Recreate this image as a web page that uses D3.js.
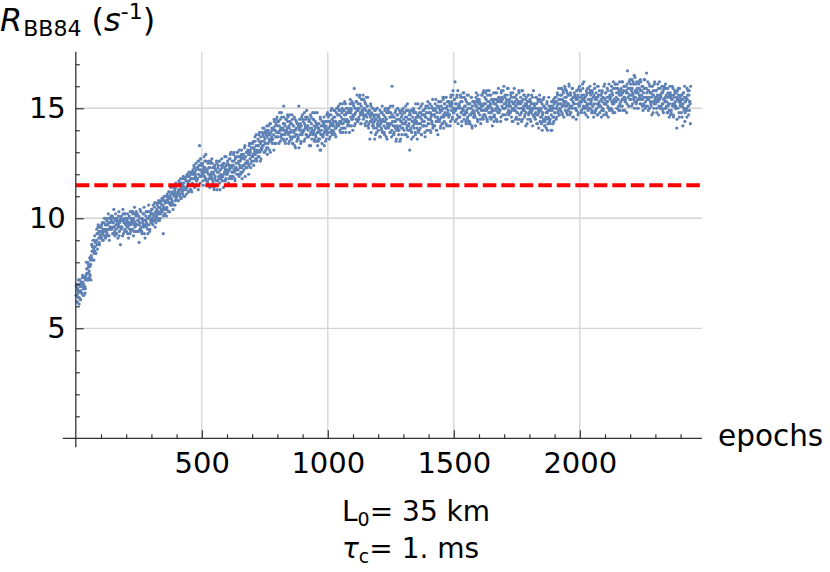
<!DOCTYPE html>
<html>
<head>
<meta charset="utf-8">
<script src="https://cdn.jsdelivr.net/npm/d3@7"></script>
<style>
  html, body { margin: 0; padding: 0; background: #fff; }
  svg { display: block; }
  text { font-family: "DejaVu Sans", sans-serif; fill: #000; }
</style>
</head>
<body>
<svg id="chart" width="830" height="572"></svg>
<script>
// ---- data: R_BB84 per epoch ----
// odd epochs (1, 3, 5, ...)
const rateOddA = [
6.5,7.0,6.2,6.8,6.4,7.2,6.1,6.7,6.9,6.3, 7.1,6.6,6.9,7.4,6.5,7.0,6.8,7.3,6.6,7.2,
7.3,7.7,7.5,8.0,7.2,7.8,7.6,8.2,7.4,7.9, 8.3,8.8,8.5,8.1,9.0,8.6,8.4,9.2,8.7,8.9,
9.0,9.5,8.8,9.3,9.7,9.1,8.9,9.6,9.2,9.4, 9.6,9.1,9.8,9.3,9.0,9.5,10.0,9.2,9.7,9.4,
9.4,9.9,9.2,9.7,10.2,9.5,9.0,9.8,9.6,10.0, 9.9,9.5,10.1,9.3,9.8,10.4,9.6,9.2,10.0,9.7,
9.5,10.0,9.8,9.1,9.7,10.3,9.4,9.9,8.8,9.6, 10.1,9.6,9.9,10.4,9.3,9.8,10.2,9.5,10.0,9.7,
9.4,9.9,10.2,9.6,9.1,9.8,10.0,9.3,9.7,10.3, 10.0,9.5,9.8,10.3,9.2,9.9,10.5,9.6,9.4,10.1,
9.7,10.2,9.4,9.9,10.1,8.9,9.8,10.4,9.5,9.6, 10.0,9.3,9.8,10.2,9.6,10.5,9.7,9.1,9.9,10.3,
9.8,10.3,9.5,10.0,10.6,9.7,9.4,10.1,9.9,10.2, 10.4,9.8,10.2,10.6,9.9,10.1,10.7,9.6,10.3,10.0,
10.1,10.6,10.3,9.9,10.8,10.2,10.5,10.0,10.7,10.4, 10.6,10.3,10.9,9.3,10.5,11.0,10.2,10.7,10.4,10.8,
10.5,11.1,10.8,10.3,11.2,10.7,11.0,10.6,11.4,10.9, 11.2,10.7,11.1,11.5,10.6,11.0,11.3,10.8,11.6,11.1,
11.0,11.5,11.2,10.8,11.7,11.3,11.1,11.6,10.9,11.4, 11.6,11.2,11.5,11.9,11.0,11.4,11.8,11.3,11.7,11.1,
11.4,11.9,11.6,11.2,12.1,11.7,11.5,12.0,11.3,11.8, 12.0,11.6,12.2,11.8,12.4,11.5,12.1,11.9,12.5,11.7,
12.3,11.8,12.6,12.0,12.4,13.3,11.9,12.7,12.2,12.5, 12.0,12.4,11.7,12.2,12.8,11.9,12.3,12.6,11.8,12.1,
12.2,11.7,12.5,12.0,11.5,12.3,11.9,12.6,11.8,12.1, 11.8,12.3,11.6,12.0,11.3,12.4,11.9,12.2,11.7,12.5,
12.1,11.7,12.4,11.9,12.6,11.6,12.2,12.0,11.8,12.7, 12.3,11.9,12.5,12.0,11.7,12.8,12.2,11.8,12.4,12.1
];
const rateOddB = [
12.0,12.5,12.2,11.8,12.7,12.3,12.9,11.9,12.4,12.1, 12.6,12.1,12.4,13.0,12.2,11.8,12.7,12.3,12.5,12.0,
12.2,12.8,12.5,12.0,13.1,12.4,12.6,12.1,12.9,12.3, 12.8,12.4,12.9,12.2,12.7,13.3,12.5,12.3,13.0,12.6,
12.6,13.1,12.9,12.4,13.4,12.7,13.0,12.5,13.2,12.8, 13.2,12.8,13.5,12.6,13.1,13.7,12.9,13.3,12.7,13.0,
13.0,13.6,13.3,12.8,13.9,13.1,13.4,12.7,13.5,13.2, 13.3,13.8,13.5,14.1,13.0,13.6,13.4,14.0,13.2,13.7,
13.9,13.4,14.2,13.6,13.1,13.8,14.3,13.5,13.7,14.0, 13.6,14.1,13.8,14.5,13.4,14.0,13.7,14.3,13.9,14.6,
14.2,13.7,14.4,13.9,14.8,13.5,14.1,13.8,14.6,14.0, 13.8,14.3,15.1,14.0,13.5,14.2,13.9,14.5,13.6,14.1,
14.4,13.9,13.4,14.1,14.7,13.7,14.3,14.0,13.6,14.5, 13.7,14.2,13.9,14.6,13.3,14.0,13.8,14.4,13.5,14.1,
14.3,13.6,15.1,14.0,13.8,14.5,13.4,14.2,13.9,14.7, 13.9,14.4,14.0,14.8,13.6,14.2,14.5,13.8,14.1,14.6,
14.2,13.7,14.4,13.3,14.1,14.7,13.9,14.3,13.6,14.0, 13.8,14.5,14.0,13.5,14.8,14.1,13.7,14.3,14.2,13.9,
14.1,13.6,14.3,13.9,13.1,14.5,13.8,14.0,13.4,14.2, 13.7,14.2,14.6,13.9,14.1,13.5,14.4,14.0,13.8,14.8,
14.4,13.9,14.1,14.7,13.7,14.3,14.9,14.0,14.5,14.2, 14.0,14.6,14.2,14.9,13.8,14.4,14.1,15.0,14.3,14.7,
14.7,14.2,14.9,14.4,15.2,13.9,14.6,14.3,15.0,14.5, 14.3,14.9,14.5,15.3,14.1,14.7,15.0,14.4,14.8,14.2,
15.0,14.4,14.8,14.2,15.4,14.6,14.9,14.5,15.2,14.0, 14.6,15.1,15.9,14.7,14.3,15.0,14.5,15.3,14.9,14.4,
15.2,14.6,15.0,15.6,14.8,14.3,15.1,14.7,15.4,14.9, 14.5,15.0,14.7,15.3,14.2,14.9,15.5,14.6,15.1,14.8,
14.8,14.3,14.9,13.6,14.6,15.1,14.4,14.7,14.2,15.0, 14.2,14.7,14.4,14.9,13.8,14.5,14.1,15.0,14.3,14.6
];
const rateOddC = [
14.0,14.6,14.2,14.9,13.7,14.4,14.1,14.8,13.9,14.5, 14.7,14.2,13.8,14.4,15.0,14.1,14.5,13.6,14.3,14.9,
14.1,14.8,14.3,13.9,15.1,14.6,13.7,16.0,14.4,14.2, 14.6,13.9,14.2,14.8,14.4,13.5,14.0,14.7,15.0,14.1,
13.8,14.5,14.9,14.2,13.6,14.4,14.1,14.7,14.3,15.0, 14.5,14.0,14.8,14.3,15.1,13.8,14.6,14.2,13.7,14.9,
14.2,14.7,13.1,14.5,14.0,14.9,13.9,14.4,14.6,13.7, 14.8,14.1,14.4,13.9,15.2,14.6,14.3,13.6,14.7,14.0,
14.3,15.0,14.6,14.1,14.8,13.8,14.5,15.2,14.2,14.7, 14.9,14.4,13.9,14.6,15.1,14.2,14.8,14.0,15.3,14.5,
14.3,14.8,15.2,14.5,13.9,14.7,14.4,15.0,14.1,14.9, 14.7,14.2,15.0,14.6,15.4,14.0,14.8,14.4,13.8,15.1,
15.0,14.4,14.8,14.1,15.3,14.6,14.9,14.3,15.5,14.7, 14.6,15.2,14.8,15.5,14.3,15.0,14.7,15.3,14.9,14.2,
15.3,14.7,15.1,14.4,15.6,14.9,15.2,14.6,15.8,15.0, 14.8,15.4,16.2,14.9,15.2,14.5,15.6,15.0,14.3,15.1,
15.2,14.6,15.0,15.5,14.8,14.2,15.3,14.9,15.7,14.7, 14.5,15.1,14.8,15.4,14.3,14.9,15.6,14.6,15.0,14.4,
15.2,14.7,14.3,15.0,15.5,14.8,14.1,15.3,14.9,14.6, 14.8,15.3,14.6,15.1,15.7,14.9,15.4,14.4,15.0,15.2,
15.4,14.7,15.0,14.3,15.2,15.6,14.9,15.1,14.5,15.8, 14.9,15.5,15.2,14.6,15.0,15.8,14.4,15.3,15.1,14.8,
15.3,14.6,15.1,15.6,14.8,15.0,14.2,15.4,14.9,15.2, 14.7,15.2,15.7,15.0,14.5,15.4,15.1,14.8,15.9,15.3,
15.5,14.9,15.3,14.6,15.8,15.1,15.4,15.0,14.7,16.0, 15.0,15.6,14.7,15.2,15.4,14.5,15.9,15.1,14.9,15.3,
15.4,14.8,15.1,15.7,14.6,15.3,15.0,14.4,15.5,15.2, 14.9,15.3,14.5,15.1,15.6,14.8,15.2,14.3,15.0,15.7,
15.2,14.7,15.5,15.0,14.4,15.3,15.8,14.9,15.1,15.6, 14.6,15.1,15.4,14.8,15.2,14.3,15.0,15.6,14.7,15.3
];
const rateOddD = [
15.1,14.5,15.3,14.8,15.6,14.9,14.2,15.2,15.0,14.7, 14.6,15.2,14.8,15.5,14.3,15.0,14.7,15.3,14.1,14.9,
15.0,14.4,14.9,15.3,14.6,14.0,14.8,15.4,14.5,15.1, 14.4,15.0,14.6,14.1,15.2,14.8,14.3,14.9,15.5,14.5,
14.9,14.3,15.1,14.7,14.0,15.3,14.6,15.0,14.4,15.2, 15.3,14.8,15.5,15.0,14.6,15.7,15.2,14.9,15.4,14.7,
15.0,15.6,15.2,15.9,14.8,15.4,15.1,15.7,14.6,15.3, 15.5,14.9,15.3,15.8,15.1,14.7,15.6,15.2,16.1,15.0,
15.1,15.7,14.8,15.4,15.0,15.9,15.3,14.6,15.5,15.2, 15.6,15.0,15.4,14.9,15.8,15.2,14.7,15.5,15.1,16.0,
15.2,15.8,15.5,14.9,15.3,16.1,15.0,15.6,15.4,14.8, 15.5,15.1,14.7,15.6,15.2,15.9,14.9,15.4,15.0,15.7,
15.0,15.6,15.3,14.8,15.8,15.1,15.5,14.6,15.2,15.9, 15.4,14.9,15.7,15.2,14.7,15.5,16.0,15.1,15.3,14.8,
15.6,15.1,15.4,14.9,15.8,15.0,15.5,14.7,15.2,16.1, 15.2,15.7,14.8,15.3,15.9,15.1,14.6,15.5,15.0,15.6,
15.5,15.0,15.8,15.3,14.9,15.6,16.2,15.2,15.4,14.8, 15.3,15.9,15.5,15.0,16.1,15.4,15.7,14.9,15.6,15.2,
15.8,15.3,15.6,16.2,15.1,15.7,15.4,16.0,15.5,14.9, 15.4,16.0,15.7,15.2,16.7,15.5,15.9,15.1,15.6,16.3,
15.9,15.4,15.8,16.3,15.2,15.6,16.1,15.5,15.0,16.4, 15.5,16.1,15.3,15.8,15.0,15.7,16.2,15.4,15.9,15.2,
15.8,15.2,15.6,16.0,15.4,14.9,15.7,16.3,15.1,15.5, 15.3,15.9,16.6,15.5,15.1,15.8,15.4,16.1,15.0,15.7,
15.7,15.1,15.5,16.0,15.3,14.8,15.6,15.2,16.2,15.4, 15.2,15.8,15.0,15.5,16.1,15.3,14.7,15.6,15.4,15.9,
15.6,15.1,15.7,15.2,14.9,15.8,15.4,16.0,15.0,15.5, 15.0,15.6,15.3,14.8,15.9,15.1,15.5,14.6,15.2,15.7,
15.5,14.9,15.4,16.0,15.2,14.7,15.6,15.1,15.8,15.3, 15.1,15.7,14.1,15.4,15.0,15.9,15.3,14.6,15.5,15.2,
15.4,14.8,15.6,15.1,14.2,15.7,15.0,15.5,14.4,15.3, 15.5,15.0,14.6,15.4,15.8,15.1,15.6,14.9,15.3,14.3
];
// even epochs (2, 4, 6, ...)
const rateEvenA = [
6.9,6.5,6.2,6.7,6.6,7.0,6.4,7.2,6.3,6.7, 7.0,6.6,7.3,7.1,6.8,6.5,7.3,6.9,6.8,7.4,
8.0,7.5,7.7,7.2,7.9,7.5,7.3,7.8,8.1,7.2, 8.2,8.8,8.7,8.5,9.0,8.1,8.7,8.5,8.9,8.4,
9.0,9.3,8.6,9.6,9.3,9.4,8.8,9.6,9.1,9.2, 9.7,9.3,9.0,9.5,9.4,9.8,9.2,10.0,9.1,9.5,
9.7,9.3,10.0,9.8,9.5,9.2,10.0,9.6,9.5,10.1, 10.1,9.6,9.8,9.3,10.0,9.6,9.4,9.9,10.2,9.3,
9.3,9.9,9.8,9.6,10.1,9.2,9.8,9.6,10.0,9.5, 9.6,9.9,9.2,10.2,9.9,10.0,9.4,10.2,9.7,9.8,
10.0,9.6,9.3,9.8,9.7,10.1,9.5,10.3,9.4,9.8, 9.9,9.5,10.2,10.0,9.7,9.4,10.2,9.8,9.7,10.3,
10.2,9.7,9.9,9.4,10.1,9.7,9.5,10.0,10.3,9.4, 9.4,10.0,9.9,9.7,10.2,9.3,9.9,9.7,10.1,9.6,
9.7,10.0,9.3,10.3,10.0,10.1,9.5,10.3,9.8,9.9, 10.4,10.0,9.7,10.2,10.1,10.5,9.9,10.7,9.8,10.2,
10.4,10.0,10.7,10.5,10.2,9.9,10.7,10.3,10.2,10.8, 10.9,10.4,10.6,10.1,10.8,10.4,10.2,10.7,11.0,10.1,
10.4,11.0,10.9,10.7,11.2,10.3,10.9,10.7,11.1,10.6, 10.8,11.1,10.4,11.4,11.1,11.2,10.6,11.4,10.9,11.0,
11.5,11.1,10.8,11.3,11.2,11.6,11.0,11.8,10.9,11.3, 11.5,11.1,11.8,11.6,11.3,11.0,11.8,11.4,11.3,11.9,
12.0,11.5,11.7,11.2,11.9,11.5,11.3,11.8,12.1,11.2, 11.5,12.1,12.0,11.8,12.3,11.4,12.0,11.8,12.2,11.7,
11.8,12.3,11.3,12.6,12.2,12.4,11.6,12.7,11.9,12.1, 12.5,12.0,11.5,12.3,12.1,12.6,11.8,12.9,11.7,12.2,
12.1,11.6,12.6,12.3,11.8,11.4,12.5,12.0,11.9,12.7, 12.5,11.7,12.1,11.4,12.3,11.8,11.5,12.2,12.6,11.3,
11.5,12.3,12.1,11.8,12.6,11.3,12.2,11.9,12.4,11.7, 11.9,12.4,11.4,12.5,12.1,12.3,11.7,12.8,12.0,12.2
];
const rateEvenB = [
12.6,12.1,11.6,12.4,12.2,12.7,11.9,13.0,11.8,12.3, 12.4,11.9,12.9,12.6,12.1,11.7,12.8,12.3,12.2,13.0,
13.0,12.2,12.6,11.9,12.8,12.3,12.0,12.7,13.1,11.8, 12.1,12.9,12.7,12.4,13.2,11.9,12.8,12.5,13.0,12.3,
12.5,13.0,12.0,13.3,12.9,13.1,12.3,13.4,12.6,12.8, 13.4,12.9,12.4,13.2,13.0,13.5,12.7,13.8,12.6,13.1,
13.3,12.8,13.8,13.5,13.0,12.6,13.7,13.2,13.1,13.9, 14.1,13.3,13.7,13.0,13.9,13.4,13.1,13.8,14.2,12.9,
13.2,14.0,13.8,13.5,14.3,13.0,13.9,13.6,14.1,13.4, 13.6,14.1,13.1,14.4,14.0,14.2,13.4,14.5,13.7,13.9,
14.4,13.9,13.4,14.2,14.0,14.5,13.7,14.8,13.6,14.1, 14.1,13.6,14.6,14.3,13.8,13.4,14.5,14.0,13.9,14.7,
14.6,13.8,14.2,13.5,14.4,13.9,13.6,14.3,14.7,13.4, 13.4,14.2,14.0,13.7,14.5,13.2,14.1,13.8,14.3,13.6,
13.7,14.2,13.2,14.5,14.1,14.3,13.5,14.6,13.8,14.0, 14.5,14.0,13.5,14.3,14.1,14.6,13.8,14.9,13.7,14.2,
14.0,13.7,14.5,14.4,13.8,13.3,14.6,14.1,13.9,14.8, 14.5,13.9,14.2,13.6,14.4,13.8,13.5,14.3,14.8,13.3,
13.5,14.1,14.0,13.6,14.6,13.1,14.2,13.8,14.4,13.7, 13.8,14.3,13.3,14.4,14.0,14.2,13.6,14.7,13.9,14.1,
14.6,14.1,13.6,14.4,14.2,14.7,13.9,15.0,13.8,14.3, 14.4,13.9,14.9,14.6,14.1,13.7,14.8,14.3,14.2,15.0,
15.1,14.3,14.7,14.0,14.9,14.4,14.1,14.8,15.2,13.9, 14.1,14.9,14.7,14.4,15.2,13.9,14.8,14.5,15.0,14.3,
14.4,14.9,13.9,15.2,14.8,15.0,14.2,15.3,14.5,14.7, 15.2,14.7,14.2,15.0,14.8,15.3,14.5,15.6,14.4,14.9,
15.0,14.5,15.5,15.2,14.7,14.3,15.4,14.9,14.8,15.6, 15.4,14.6,15.0,14.3,15.2,14.7,14.4,15.1,15.5,14.2,
14.1,14.9,14.7,14.4,15.2,13.9,14.8,14.5,15.0,14.3, 14.1,14.6,13.6,14.9,14.5,14.7,13.9,15.0,14.2,14.4
];
const rateEvenC = [
14.7,14.2,13.7,14.5,14.3,14.8,14.0,15.1,13.9,14.4, 14.4,13.9,14.9,14.6,14.1,13.7,14.8,14.3,14.2,15.0,
15.0,14.2,14.6,13.9,14.8,14.3,14.0,14.7,15.1,13.8, 13.8,14.6,14.4,14.1,14.9,13.6,14.5,14.2,14.7,14.0,
14.0,14.5,13.5,14.8,14.4,14.6,13.8,14.9,14.1,14.3, 14.8,14.3,13.8,14.6,14.4,14.9,14.1,15.2,14.0,14.5,
14.3,14.0,14.8,14.7,14.1,13.6,14.9,14.4,14.2,15.0, 14.9,14.3,14.5,13.8,14.8,14.4,14.1,14.6,15.2,13.9,
14.0,14.8,14.6,14.3,15.1,13.8,14.7,14.4,14.9,14.2, 14.2,14.7,13.7,15.0,14.6,14.8,14.0,15.1,14.3,14.5,
15.0,14.5,14.0,14.8,14.6,15.1,14.3,15.4,14.2,14.7, 14.7,14.2,15.2,14.9,14.4,14.0,15.1,14.6,14.5,15.3,
15.3,14.5,14.9,14.2,15.1,14.6,14.3,15.0,15.4,14.1, 14.4,15.2,15.0,14.7,15.5,14.2,15.1,14.8,15.3,14.6,
14.7,15.2,14.2,15.5,15.1,15.3,14.5,15.6,14.8,15.0, 15.4,14.9,14.4,15.2,15.0,15.5,14.7,15.8,14.6,15.1,
15.1,14.6,15.6,15.3,14.8,14.4,15.5,15.0,14.9,15.7, 15.5,14.7,15.1,14.4,15.3,14.8,14.5,15.2,15.6,14.3,
14.4,15.2,15.0,14.7,15.5,14.2,15.1,14.8,15.3,14.6, 14.7,15.2,14.2,15.5,15.1,15.3,14.5,15.6,14.8,15.0,
15.3,15.0,14.5,15.1,14.9,15.6,14.6,15.7,14.7,15.2, 15.2,14.7,15.7,15.4,14.9,14.5,15.6,15.1,15.0,15.8,
15.6,14.8,15.2,14.5,15.4,14.9,14.6,15.3,15.7,14.4, 14.6,15.4,15.2,14.9,15.7,14.4,15.3,15.0,15.5,14.8,
14.9,15.4,14.4,15.7,15.3,15.5,14.7,15.8,15.0,15.2, 15.5,15.0,14.5,15.3,15.1,15.6,14.8,15.9,14.7,15.2,
15.1,14.8,15.6,15.5,14.9,14.4,15.7,15.2,15.0,15.9, 15.5,14.9,15.1,14.6,15.4,14.8,14.5,15.3,15.8,14.5,
14.7,15.3,15.2,14.8,15.8,14.5,15.4,15.0,15.6,14.9, 14.7,15.2,14.2,15.5,15.1,15.3,14.5,15.6,14.8,15.0
];
const rateEvenD = [
15.4,14.9,14.4,15.2,15.0,15.5,14.7,15.8,14.6,15.1, 15.0,14.5,15.5,15.2,14.7,14.3,15.4,14.9,14.8,15.6,
15.4,14.6,15.0,14.3,15.2,14.7,14.4,15.1,15.5,14.2, 14.2,15.0,14.8,14.5,15.3,14.0,14.9,14.6,15.1,14.4,
14.5,15.0,14.0,15.3,14.9,15.1,14.3,15.4,14.6,14.8, 15.5,15.0,14.5,15.3,15.1,15.6,14.8,15.9,14.7,15.2,
15.4,14.9,15.9,15.6,15.1,14.7,15.8,15.3,15.2,16.0, 15.9,15.1,15.5,14.8,15.7,15.2,14.9,15.6,16.0,14.7,
14.8,15.6,15.4,15.1,15.9,14.6,15.5,15.2,15.7,15.0, 15.0,15.5,14.5,15.8,15.4,15.6,14.8,15.9,15.1,15.3,
15.8,15.3,14.8,15.6,15.4,15.9,15.1,16.2,15.0,15.5, 15.3,15.0,15.8,15.7,15.1,14.6,15.9,15.4,15.2,16.0,
15.8,15.2,15.4,14.9,15.7,15.1,14.8,15.6,16.1,14.8, 14.9,15.5,15.4,15.0,16.0,14.7,15.6,15.2,15.8,15.1,
15.1,15.6,14.6,15.7,15.3,15.5,14.9,16.0,15.2,15.4, 15.7,15.2,14.7,15.5,15.3,15.8,15.0,16.1,14.9,15.4,
15.5,15.0,16.0,15.7,15.2,14.8,15.9,15.4,15.3,16.1, 16.1,15.3,15.7,15.0,15.9,15.4,15.1,15.8,16.2,14.9,
15.1,15.9,15.7,15.4,16.2,14.9,15.8,15.5,16.0,15.3, 15.3,15.8,14.8,16.1,15.7,15.9,15.1,16.2,15.4,15.6,
16.1,15.6,15.1,15.9,15.7,16.2,15.4,16.5,15.3,15.8, 15.7,15.2,16.2,15.9,15.4,15.0,16.1,15.6,15.5,16.3,
16.2,15.4,15.8,15.1,16.0,15.5,15.2,15.9,16.3,15.0, 15.1,15.9,15.7,15.4,16.2,14.9,15.8,15.5,16.0,15.3,
15.2,15.7,14.7,16.0,15.6,15.8,15.0,16.1,15.3,15.5, 15.8,15.3,14.8,15.6,15.4,15.9,15.1,16.2,15.0,15.5,
15.5,15.0,16.0,15.7,15.2,14.8,15.9,15.4,15.3,16.1, 15.9,15.1,15.5,14.8,15.7,15.2,14.9,15.6,16.0,14.7,
14.8,15.6,15.4,15.1,15.9,14.6,15.5,15.2,15.7,15.0, 15.0,15.5,14.5,15.8,15.4,15.6,14.8,15.9,15.1,15.3,
15.6,15.1,14.6,15.4,15.2,15.7,14.9,16.0,14.8,15.3, 15.4,14.9,15.9,15.6,15.1,14.7,15.8,15.3,15.2,16.0
];
const thresholdRate = 11.5;
const xMajorTicks = [500, 1000, 1500, 2000];
const xMinorTicks = [100,200,300,400,600,700,800,900,1100,1200,1300,1400,1600,1700,1800,1900,2100,2200,2300,2400];
const yMajorTicks = [5, 10, 15];
const yMinorTicks = [1,2,3,4,6,7,8,9,11,12,13,14,16,17];
const xDomain = [0, 2485];
const yDomain = [0, 17.57];

// ---- build points ----
const oddRates = [].concat(rateOddA, rateOddB, rateOddC, rateOddD);
const evenRates = [].concat(rateEvenA, rateEvenB, rateEvenC, rateEvenD);
const points = [];
oddRates.forEach((v, i) => points.push({ epoch: 1 + 2 * i, rate: v }));
evenRates.forEach((v, i) => points.push({ epoch: 2 + 2 * i, rate: v }));
points.sort((a, b) => a.epoch - b.epoch);

const svg = d3.select("#chart");
const x = d3.scaleLinear().domain(xDomain).range([75.8, 702]);
const y = d3.scaleLinear().domain(yDomain).range([438.3, 51.7]);
const axisColor = "#333";
const gridColor = "#d4d4d4";

// gridlines
const grid = svg.append("g");
grid.selectAll("line.gx").data(xMajorTicks).join("line")
  .attr("x1", d => x(d)).attr("x2", d => x(d))
  .attr("y1", y(yDomain[0])).attr("y2", y(yDomain[1]))
  .attr("stroke", gridColor).attr("stroke-width", 1.3);
grid.selectAll("line.gy").data(yMajorTicks).join("line")
  .attr("x1", x(xDomain[0])).attr("x2", x(xDomain[1]))
  .attr("y1", d => y(d)).attr("y2", d => y(d))
  .attr("stroke", gridColor).attr("stroke-width", 1.3);

// points
svg.append("g").selectAll("circle").data(points).join("circle")
  .attr("cx", d => x(d.epoch)).attr("cy", d => y(d.rate))
  .attr("r", 1.6).attr("fill", "#5e81b5");

// threshold line
svg.append("line")
  .attr("x1", x(xDomain[0])).attr("x2", x(xDomain[1]))
  .attr("y1", y(thresholdRate)).attr("y2", y(thresholdRate))
  .attr("stroke", "#ff0000").attr("stroke-width", 4)
  .attr("stroke-dasharray", "13.5,5");

// axes
const fontSize = 29;
const xAxisG = svg.append("g").attr("transform", `translate(0,${y(0)})`);
xAxisG.call(d3.axisBottom(x).tickValues(xMajorTicks).tickSize(-8).tickPadding(14).tickFormat(d3.format("d")));
const xMinorG = svg.append("g").attr("transform", `translate(0,${y(0)})`);
xMinorG.call(d3.axisBottom(x).tickValues(xMinorTicks).tickSize(-4).tickFormat(""));
const yAxisG = svg.append("g").attr("transform", `translate(${x(0)},0)`);
yAxisG.call(d3.axisLeft(y).tickValues(yMajorTicks).tickSize(-8).tickPadding(10).tickFormat(d3.format("d")));
const yMinorG = svg.append("g").attr("transform", `translate(${x(0)},0)`);
yMinorG.call(d3.axisLeft(y).tickValues(yMinorTicks).tickSize(-4).tickFormat(""));

svg.selectAll(".domain").remove();
svg.selectAll(".tick line").attr("stroke", axisColor).attr("stroke-width", 1.2);
svg.selectAll(".tick text").attr("font-size", fontSize).attr("font-family", "DejaVu Sans").attr("fill", "#000");

// axis lines (extended slightly past the origin, Mathematica style)
svg.append("line").attr("x1", x(0) - 13).attr("x2", x(xDomain[1]))
  .attr("y1", y(0)).attr("y2", y(0)).attr("stroke", axisColor).attr("stroke-width", 1.3);
svg.append("line").attr("x1", x(0)).attr("x2", x(0))
  .attr("y1", y(yDomain[1])).attr("y2", y(0) + 9).attr("stroke", axisColor).attr("stroke-width", 1.3);

// axis labels
svg.append("text").attr("x", 718).attr("y", 446).attr("font-size", 29.5).text("epochs");

const title = svg.append("text").attr("x", 0).attr("y", 31).attr("font-size", 32);
title.append("tspan").attr("font-style", "italic").text("R");
title.append("tspan").attr("font-size", 22).attr("dy", 5).attr("dx", 1).text("BB84");
title.append("tspan").attr("dy", -5).text(" (");
title.append("tspan").attr("font-style", "italic").text("s");
title.append("tspan").attr("font-size", 22).attr("dy", -12).text("-1");
title.append("tspan").attr("dy", 12).text(")");

const l1 = svg.append("text").attr("x", 342).attr("y", 521).attr("font-size", 28);
l1.append("tspan").text("L");
l1.append("tspan").attr("font-size", 19).attr("dy", 5).text("0");
l1.append("tspan").attr("dy", -5).text("= 35 km");

const l2 = svg.append("text").attr("x", 342).attr("y", 558).attr("font-size", 28);
l2.append("tspan").attr("font-style", "italic").text("τ");
l2.append("tspan").attr("font-size", 19).attr("dy", 5).text("c");
l2.append("tspan").attr("dy", -5).text("= 1. ms");
</script>
</body>
</html>
